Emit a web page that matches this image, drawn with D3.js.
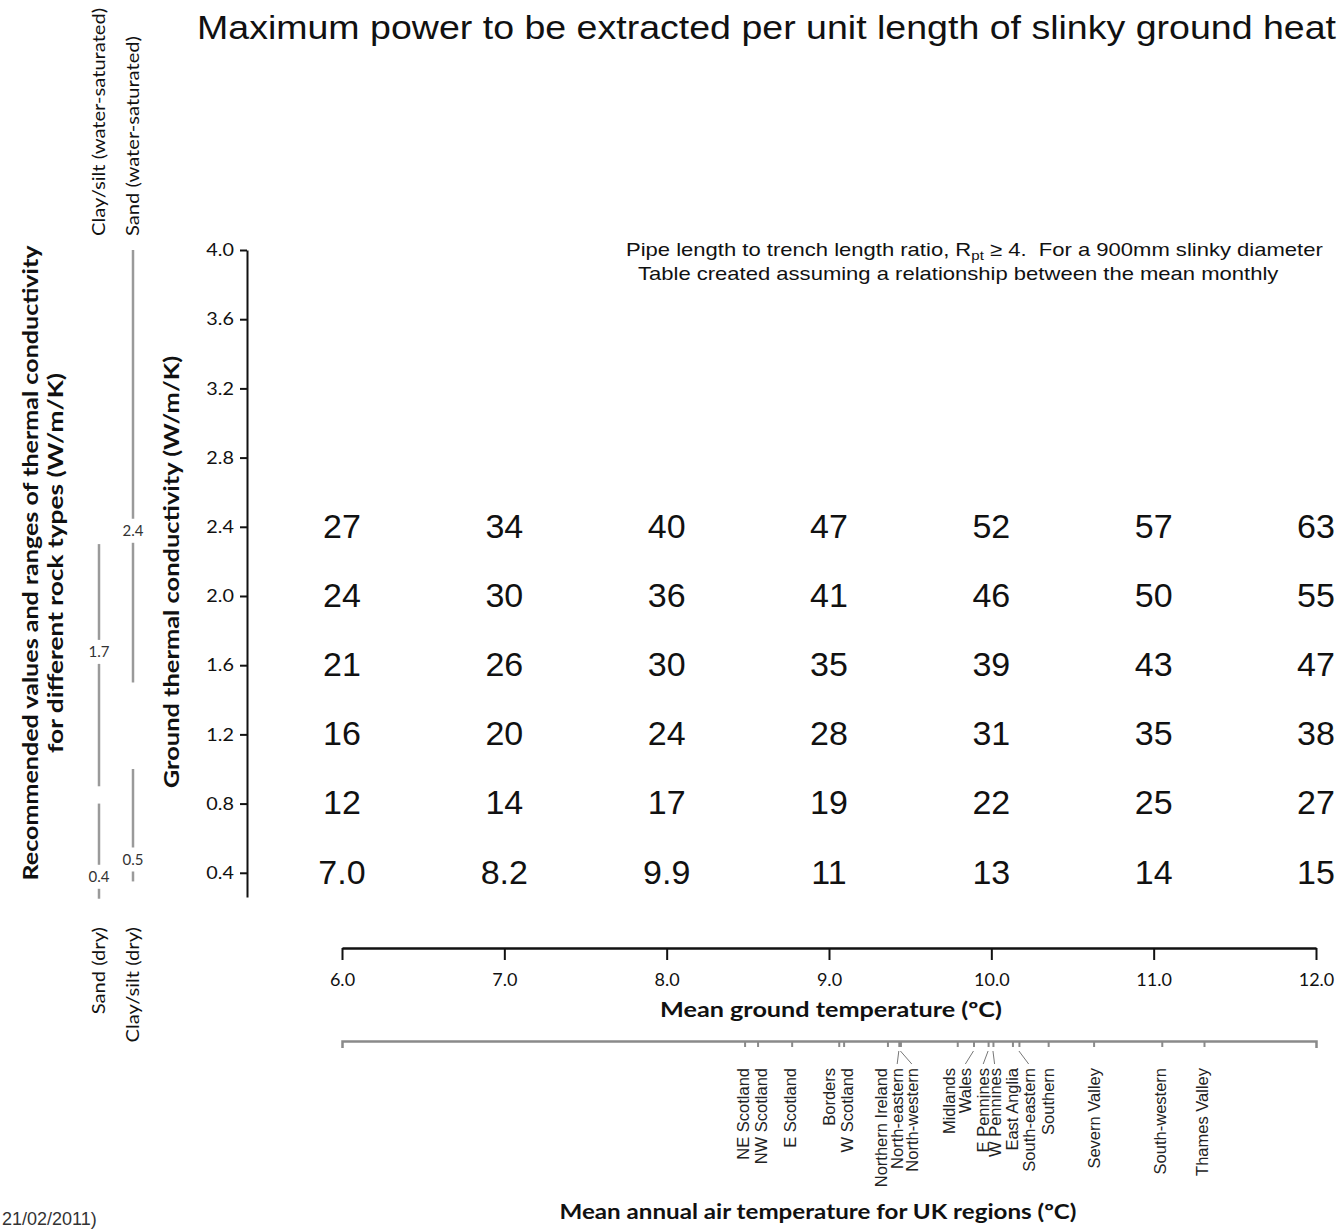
<!doctype html>
<html>
  <head>
    <meta charset="utf8">
    <script src="https://d3js.org/d3.v7.min.js"></script>
    <style type="text/css">
      body { margin: 0; background: #fff; }
      svg { display: block; }
      .gill { font-family: Lato, 'Open Sans', sans-serif; }
      .arial { font-family: 'Liberation Sans', Arial, sans-serif; }
    </style>
  </head>
  <body>
    <script type="text/javascript">
      const w = 1338;
      const h = 1232;

      // table: mean ground temperature (columns) x conductivity (rows)
      const groundTemps = [6, 7, 8, 9, 10, 11, 12];
      const conductivities = [2.4, 2.0, 1.6, 1.2, 0.8, 0.4];
      const power24 = [27, 34, 40, 47, 52, 57, 63];
      const power20 = [24, 30, 36, 41, 46, 50, 55];
      const power16 = [21, 26, 30, 35, 39, 43, 47];
      const power12 = [16, 20, 24, 28, 31, 35, 38];
      const power08 = [12, 14, 17, 19, 22, 25, 27];
      const power04 = [7.0, 8.2, 9.9, 11, 13, 14, 15];
      const powerRows = [power24, power20, power16, power12, power08, power04];

      const yTicks = [0.4, 0.8, 1.2, 1.6, 2.0, 2.4, 2.8, 3.2, 3.6, 4.0];

      // rock types: two columns, dry at the bottom, saturated at the top
      const rockNames = ['Sand (dry)', 'Clay/silt (water-saturated)', 'Clay/silt (dry)', 'Sand (water-saturated)'];
      const rockColumn = [0, 0, 1, 1];
      const rockDry = [true, false, true, false];
      const rockLow = [0.25, 0.9, 0.35, 1.5];
      const rockHigh = [0.8, 2.3, 1.0, 4.0];
      const rockRecommended = [0.4, 1.7, 0.5, 2.4];

      // UK regions, placed on the ground temperature scale
      const regionNames = ['NE Scotland', 'NW Scotland', 'E Scotland', 'Borders', 'W Scotland',
        'Northern Ireland', 'North-eastern', 'North-western', 'Midlands', 'Wales', 'E Pennines',
        'W Pennines', 'East Anglia', 'South-eastern', 'Southern', 'Severn Valley', 'South-western',
        'Thames Valley'];
      const regionTemps = [8.48, 8.56, 8.77, 9.06, 9.09, 9.36, 9.43, 9.44, 9.79, 9.89, 9.98,
        10.01, 10.13, 10.17, 10.35, 10.63, 11.05, 11.31];
      const regionLabelTemps = [8.47, 8.58, 8.76, 9.00, 9.11, 9.32, 9.42, 9.51, 9.74, 9.84, 9.95,
        10.02, 10.13, 10.23, 10.35, 10.63, 11.04, 11.30];
      const leaderRegions = ['North-eastern', 'North-western', 'Wales', 'E Pennines', 'W Pennines', 'South-eastern'];

      const x = d3.scaleLinear().domain([6, 12]).range([342, 1316]);
      const y = d3.scaleLinear().domain([0.26, 4.0]).range([897, 250]);
      const col = d3.scalePoint().domain([0, 1]).range([99, 133]);

      const svg = d3.select('body')
        .append('svg')
        .attr('width', w)
        .attr('height', h);

      // the original lettering is wider than the fonts we have, stretch it
      function stretch(sel, k) {
        sel.each(function () {
          d3.select(this)
            .attr('textLength', this.getComputedTextLength() * k)
            .attr('lengthAdjust', 'spacingAndGlyphs');
        });
      }

      // title
      svg.append('text')
        .attr('class', 'arial')
        .attr('x', 197)
        .attr('y', 39)
        .attr('font-size', '34px')
        .attr('fill', '#111')
        .attr('textLength', 1139)
        .attr('lengthAdjust', 'spacingAndGlyphs')
        .text('Maximum power to be extracted per unit length of slinky ground heat');

      // note
      const note = svg.append('g')
        .attr('class', 'arial')
        .attr('font-size', '19px')
        .attr('fill', '#111');

      const note1 = note.append('text')
        .attr('transform', 'translate(626,256) scale(1.16,1)');
      note1.append('tspan').text('Pipe length to trench length ratio, R');
      note1.append('tspan').attr('font-size', '13px').attr('dy', 4).text('pt');
      note1.append('tspan').attr('dy', -4).text(' \u2265 4.\u00a0 For a 900mm slinky diameter');

      note.append('text')
        .attr('transform', 'translate(638,280) scale(1.16,1)')
        .text('Table created assuming a relationship between the mean monthly');

      // y axis
      const yAxis = d3.axisLeft(y)
        .tickValues(yTicks)
        .tickSize(7)
        .tickSizeOuter(0)
        .tickFormat(d3.format('.1f'));

      const gy = svg.append('g')
        .attr('transform', 'translate(247,0)')
        .call(yAxis);
      gy.select('.domain').attr('stroke', '#111').attr('stroke-width', 2);
      gy.selectAll('.tick line').attr('stroke', '#111').attr('stroke-width', 2);
      gy.selectAll('.tick text')
        .attr('class', 'gill')
        .attr('font-size', '18px')
        .attr('fill', '#111')
        .attr('x', -13)
        .call(stretch, 1.1);

      svg.append('text')
        .attr('class', 'gill')
        .attr('transform', 'translate(179,572) rotate(-90)')
        .attr('text-anchor', 'middle')
        .attr('font-size', '21px')
        .attr('font-weight', 'bold')
        .attr('fill', '#111')
        .text('Ground thermal conductivity (W/m/K)')
        .call(stretch, 1.21);

      // x axis
      const xAxis = d3.axisBottom(x)
        .tickValues(groundTemps)
        .tickSize(12)
        .tickSizeOuter(0)
        .tickFormat(d3.format('.1f'));

      const gx = svg.append('g')
        .attr('transform', 'translate(0,948)')
        .call(xAxis);
      gx.select('.domain').attr('stroke', '#111').attr('stroke-width', 2.5);
      gx.selectAll('.tick line').attr('stroke', '#111').attr('stroke-width', 2);
      gx.selectAll('.tick text')
        .attr('class', 'gill')
        .attr('font-size', '17px')
        .attr('fill', '#111')
        .attr('y', 26)
        .call(stretch, 1.06);

      svg.append('text')
        .attr('class', 'gill')
        .attr('x', 831)
        .attr('y', 1017)
        .attr('text-anchor', 'middle')
        .attr('font-size', '21px')
        .attr('font-weight', 'bold')
        .attr('fill', '#111')
        .text('Mean ground temperature (\u00BAC)')
        .call(stretch, 1.2);

      // table values
      powerRows.forEach((row, j) => {
        svg.append('g').selectAll('text')
          .data(row)
          .enter()
          .append('text')
          .attr('class', 'arial')
          .attr('x', (d, i) => x(groundTemps[i]))
          .attr('y', y(conductivities[j]))
          .attr('dy', '0.32em')
          .attr('text-anchor', 'middle')
          .attr('font-size', '34px')
          .attr('fill', '#111')
          .text((d) => d < 10 ? d.toFixed(1) : d);
      });

      // region axis (air temperature)
      const regionAxis = d3.axisBottom(x)
        .tickValues(regionTemps)
        .tickSize(6)
        .tickSizeOuter(7)
        .tickFormat('');

      const gr = svg.append('g')
        .attr('transform', 'translate(0,1041)')
        .call(regionAxis);
      gr.select('.domain').attr('stroke', '#8a8a8a').attr('stroke-width', 2.5);
      gr.selectAll('.tick line').attr('stroke', '#8a8a8a').attr('stroke-width', 2);

      const leaders = regionNames.map((d, i) => i).filter((i) => leaderRegions.includes(regionNames[i]));
      svg.append('g').selectAll('line')
        .data(leaders)
        .enter()
        .append('line')
        .attr('x1', (i) => x(regionTemps[i]))
        .attr('y1', 1051)
        .attr('x2', (i) => x(regionLabelTemps[i]))
        .attr('y2', 1064)
        .attr('stroke', '#777')
        .attr('stroke-width', 1);

      svg.append('g').selectAll('text')
        .data(regionNames)
        .enter()
        .append('text')
        .attr('class', 'arial')
        .attr('transform', (d, i) => 'translate(' + x(regionLabelTemps[i]) + ',1068) rotate(-90)')
        .attr('text-anchor', 'end')
        .attr('dy', '0.36em')
        .attr('font-size', '16.5px')
        .attr('fill', '#222')
        .text((d) => d);

      svg.append('text')
        .attr('class', 'gill')
        .attr('x', 818)
        .attr('y', 1219)
        .attr('text-anchor', 'middle')
        .attr('font-size', '21px')
        .attr('font-weight', 'bold')
        .attr('fill', '#111')
        .text('Mean annual air temperature for UK regions (\u00BAC)')
        .call(stretch, 1.15);

      // rock type ranges
      const gap = 12;
      const rocks = rockNames.map((d, i) => i);
      const segs = [];
      rocks.forEach((i) => {
        const yc = y(rockRecommended[i]) + 4;
        const top = y(rockHigh[i]);
        const bot = y(rockLow[i]);
        if (yc - gap > top) segs.push([i, top, yc - gap]);
        if (bot > yc + gap) segs.push([i, yc + gap, bot]);
      });

      svg.append('g').selectAll('line')
        .data(segs)
        .enter()
        .append('line')
        .attr('x1', (d) => col(rockColumn[d[0]]))
        .attr('x2', (d) => col(rockColumn[d[0]]))
        .attr('y1', (d) => d[1])
        .attr('y2', (d) => d[2])
        .attr('stroke', '#9a9a9a')
        .attr('stroke-width', 2.5);

      svg.append('g').selectAll('text')
        .data(rocks)
        .enter()
        .append('text')
        .attr('class', 'gill')
        .attr('x', (i) => col(rockColumn[i]))
        .attr('y', (i) => y(rockRecommended[i]) + 4)
        .attr('dy', '0.35em')
        .attr('text-anchor', 'middle')
        .attr('font-size', '15px')
        .attr('fill', '#333')
        .text((i) => d3.format('.1f')(rockRecommended[i]));

      svg.append('g').selectAll('text')
        .data(rocks)
        .enter()
        .append('text')
        .attr('class', 'gill')
        .attr('transform', (i) => 'translate(' + col(rockColumn[i]) + ',' + (rockDry[i] ? 927 : 236) + ') rotate(-90)')
        .attr('text-anchor', (i) => rockDry[i] ? 'end' : 'start')
        .attr('dy', '0.36em')
        .attr('font-size', '18px')
        .attr('fill', '#111')
        .text((i) => rockNames[i])
        .call(stretch, 1.12);

      // left title
      const leftTitle = ['Recommended values and ranges of thermal conductivity', 'for different rock types (W/m/K)'];
      const leftLength = [635, 380];
      svg.append('g').selectAll('text')
        .data(leftTitle)
        .enter()
        .append('text')
        .attr('class', 'gill')
        .attr('transform', (d, i) => 'translate(' + (38 + i * 25) + ',563) rotate(-90)')
        .attr('text-anchor', 'middle')
        .attr('font-size', '21px')
        .attr('font-weight', 'bold')
        .attr('fill', '#111')
        .attr('textLength', (d, i) => leftLength[i])
        .attr('lengthAdjust', 'spacingAndGlyphs')
        .text((d) => d);

      // footer date, sitting at the bottom edge
      svg.append('text')
        .attr('class', 'arial')
        .attr('x', 2)
        .attr('y', 1225)
        .attr('font-size', '18px')
        .attr('fill', '#333')
        .text('21/02/2011)');
    </script>
  </body>
</html>
